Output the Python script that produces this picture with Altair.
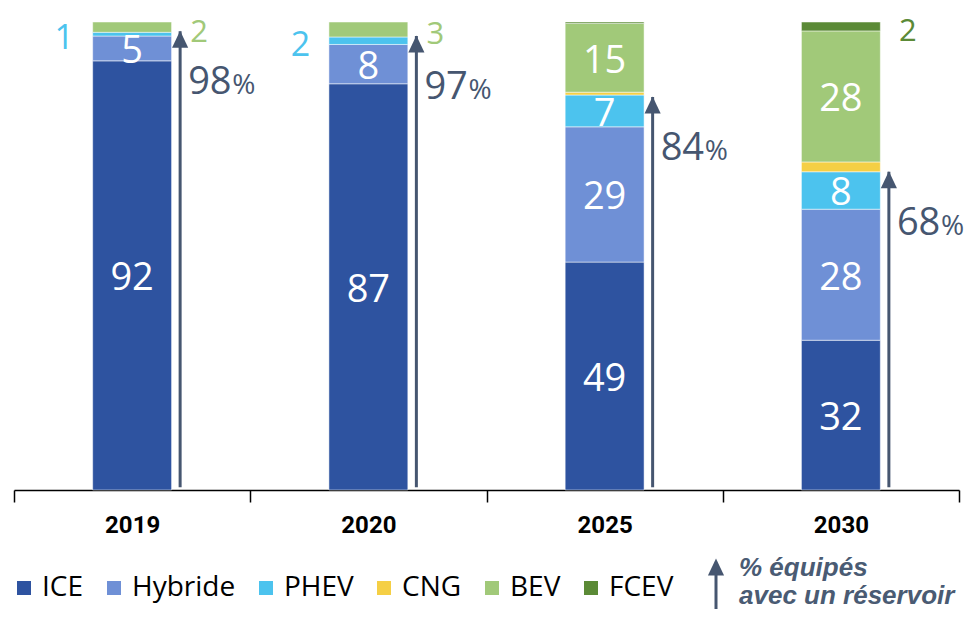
import altair as alt
import pandas as pd

# ---------------- data ----------------
years = ["2019", "2020", "2025", "2030"]
categories = ["ICE", "Hybride", "PHEV", "CNG", "BEV", "FCEV"]
ice = [91.7, 86.8, 48.7, 32.0]
hybride = [5.3, 8.4, 28.9, 28.0]
phev = [0.8, 1.6, 6.8, 8.0]
cng = [0.0, 0.0, 0.6, 2.1]
bev = [2.2, 3.2, 14.7, 28.0]
fcev = [0.0, 0.0, 0.3, 1.9]
tank_pct = [98, 97, 84, 68]
colors = ["#2e53a0", "#6f90d6", "#4cc3ee", "#f5cf45", "#a1c979", "#5b8a36"]
outside_left = [("2019", "PHEV"), ("2020", "PHEV")]
outside_right = [("2019", "BEV"), ("2020", "BEV"), ("2030", "FCEV")]

ARROW_C = "#465670"
NUM_FONT = "Open Sans"

series = [ice, hybride, phev, cng, bev, fcev]
rows = []
for i, yr in enumerate(years):
    base = 0.0
    for c, vals in zip(categories, series):
        v = vals[i]
        rows.append(dict(year=yr, cat=c, value=v, y0=base, y1=base + v,
                         mid=base + v / 2, label=str(int(round(v)))))
        base += v
df = pd.DataFrame(rows)
df_bar = df[df.value > 0]
df_in = df[df.value >= 4.5]
lk, rk = set(outside_left), set(outside_right)
df_left = df[[(r.year, r.cat) in lk for r in df.itertuples()]]
df_right = df[[(r.year, r.cat) in rk for r in df.itertuples()]]
df_tank = pd.DataFrame({"year": years, "tank": tank_pct,
                        "num": [str(t) for t in tank_pct]})

W, H = 945, 468

X = alt.X("year:N", sort=years, title=None,
          scale=alt.Scale(paddingInner=0, paddingOuter=0),
          axis=alt.Axis(labelFont="Roboto",
                        labelFontSize=24, labelFontWeight="bold", labelColor="black",
                        labelAngle=0, labelPadding=11,
                        domainColor="black", domainWidth=1.5,
                        tickColor="black", tickWidth=1.5, tickSize=12,
                        tickBand="extent", grid=False))
Xn = alt.X("year:N", sort=years)
Yscale = alt.Scale(domain=[0, 100], nice=False)
color_scale = alt.Scale(domain=categories, range=colors)

bars = alt.Chart(df_bar).mark_bar(
    width=alt.RelativeBandSize(0.334), stroke="white", strokeWidth=0.5
).encode(
    x=X,
    y=alt.Y("y0:Q", scale=Yscale, axis=None),
    y2="y1:Q",
    color=alt.Color("cat:N", scale=color_scale,
                    legend=alt.Legend(title=None, orient="none", legendX=-4, legendY=552,
                                      direction="horizontal", symbolType="square",
                                      symbolSize=196, symbolStrokeWidth=0,
                                      labelFont=NUM_FONT, labelFontSize=28,
                                      labelColor="black", columnPadding=16,
                                      labelOffset=4, padding=0)),
)

inside = alt.Chart(df_in).mark_text(
    font=NUM_FONT, fontSize=38, color="white", baseline="middle", align="center", dy=4
).encode(x=Xn, y=alt.Y("mid:Q", scale=Yscale), text="label:N")

left_lbl = alt.Chart(df_left).mark_text(
    font=NUM_FONT, fontSize=34, baseline="middle", align="center", dx=-68, dy=5
).encode(x=Xn, y=alt.Y("mid:Q", scale=Yscale), text="label:N",
         color=alt.Color("cat:N", scale=color_scale, legend=None))

right_lbl = alt.Chart(df_right).mark_text(
    font=NUM_FONT, fontSize=31, baseline="middle", align="center", dx=67, dy=6
).encode(x=Xn, y=alt.Y("mid:Q", scale=Yscale), text="label:N",
         color=alt.Color("cat:N", scale=color_scale, legend=None))

arrow_line = alt.Chart(df_tank).mark_rule(
    color=ARROW_C, strokeWidth=3, xOffset=48
).encode(x=Xn, y=alt.Y("tank:Q", scale=Yscale), y2=alt.datum(0.6))

arrow_head = alt.Chart(df_tank).mark_point(
    shape="M0,-1L-0.95,1L0.95,1Z", size=289, filled=True, opacity=1,
    color=ARROW_C, xOffset=48, yOffset=8
).encode(x=Xn, y=alt.Y("tank:Q", scale=Yscale))

pct_num = alt.Chart(df_tank).mark_text(
    font=NUM_FONT, fontSize=38, color=ARROW_C, align="left", baseline="middle",
    dx=56, dy=52
).encode(x=Xn, y=alt.Y("tank:Q", scale=Yscale), text="num:N")

pct_sign = alt.Chart(df_tank).mark_text(
    font=NUM_FONT, fontSize=28, color=ARROW_C, align="left", baseline="middle",
    dx=100, dy=55, text="%"
).encode(x=Xn, y=alt.Y("tank:Q", scale=Yscale))

one = pd.DataFrame({"k": [0]})
leg_line = alt.Chart(one).mark_rule(color=ARROW_C, strokeWidth=3).encode(
    x=alt.value(702), y=alt.value(589), y2=alt.value(546))
leg_head = alt.Chart(one).mark_point(
    shape="M0,-1L-0.95,1L0.95,1Z", size=289, filled=True, opacity=1, color=ARROW_C
).encode(x=alt.value(702), y=alt.value(545))
leg_t1 = alt.Chart(one).mark_text(
    font="Liberation Sans", fontSize=26, fontWeight="bold", fontStyle="italic",
    color="#4a5b73", align="left", baseline="middle", text="% équipés"
).encode(x=alt.value(725), y=alt.value(546))
leg_t2 = alt.Chart(one).mark_text(
    font="Liberation Sans", fontSize=26, fontWeight="bold", fontStyle="italic",
    color="#4a5b73", align="left", baseline="middle", text="avec un réservoir"
).encode(x=alt.value(725), y=alt.value(574))

chart = alt.layer(
    bars, inside, left_lbl, right_lbl, arrow_line, arrow_head, pct_num, pct_sign,
    leg_line, leg_head, leg_t1, leg_t2
).properties(
    width=W, height=H,
    padding={"left": 6, "top": 14, "right": 7, "bottom": 119},
    autosize=alt.AutoSizeParams(type="none"),
).configure_view(stroke=None)

chart.save("out.html", embed_options={"renderer": "svg", "actions": False})
